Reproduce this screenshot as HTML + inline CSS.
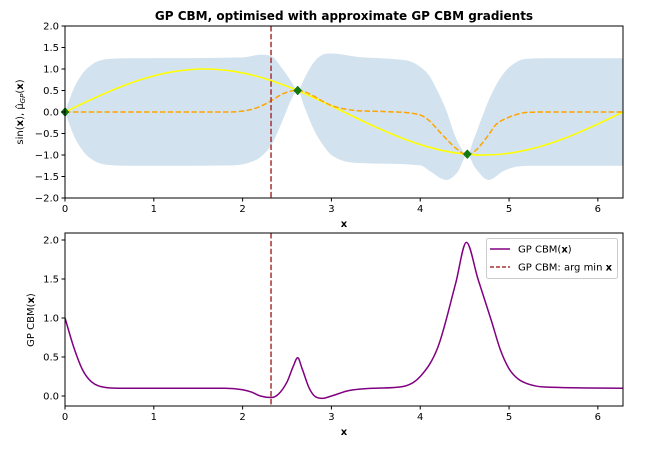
<!DOCTYPE html>
<html><head><meta charset="utf-8"><style>
body{margin:0;background:#fff;}
svg{display:block;font-family:"DejaVu Sans","Liberation Sans",sans-serif;}
</style></head><body>
<svg id="c" width="652" height="450" xmlns="http://www.w3.org/2000/svg"></svg>
<script>
const xs_sin=[0,0.3,0.6,0.9,1.2,1.5708,1.9,2.2,2.5,2.8,3.1416,3.5,3.8,4.1,4.4,4.7124,5.0,5.3,5.6,5.9,6.2832];
const ys_sin=[0,0.296,0.565,0.783,0.932,1,0.946,0.808,0.598,0.335,0,-0.351,-0.612,-0.818,-0.952,-1,-0.959,-0.832,-0.631,-0.374,0];
const xs_mu=[0,1.8,1.95,2.1,2.2,2.32,2.45,2.55,2.62,2.7,2.8,2.9,3.0,3.15,3.3,3.6,4.0,4.1,4.2,4.3,4.4,4.53,4.62,4.7,4.78,4.85,5.0,5.1,5.2,5.4,6.2832];
const ys_mu=[0,0,0.01,0.06,0.13,0.26,0.42,0.49,0.5,0.47,0.37,0.25,0.15,0.07,0.03,0.01,-0.07,-0.2,-0.42,-0.64,-0.84,-1.0,-0.9,-0.72,-0.5,-0.3,-0.12,-0.05,-0.01,0,0];
const xs_up=[0,0.1,0.2,0.3,0.4,0.55,0.8,2.0,2.2,2.32,2.45,2.55,2.62,2.7,2.8,2.9,3.0,3.3,3.7,3.9,4.0,4.1,4.19,4.3,4.38,4.45,4.53,4.6,4.7,4.79,4.94,5.09,5.24,5.5,6.2832];
const ys_up=[0,0.55,0.9,1.1,1.2,1.24,1.25,1.27,1.33,1.3,1.0,0.7,0.5,0.8,1.15,1.33,1.36,1.28,1.23,1.17,1.05,0.85,0.51,0,-0.49,-0.8,-1.0,-0.65,-0.1,0.36,0.9,1.17,1.24,1.25,1.25];
const xs_lo=[0,0.1,0.2,0.3,0.4,0.55,0.8,1.9,2.1,2.2,2.32,2.45,2.55,2.62,2.7,2.8,2.9,3.0,3.35,4.0,4.12,4.29,4.42,4.53,4.62,4.77,4.94,5.09,5.3,6.2832];
const ys_lo=[0,-0.55,-0.9,-1.1,-1.2,-1.24,-1.25,-1.24,-1.16,-1.05,-0.78,-0.2,0.3,0.5,0.1,-0.4,-0.75,-1.0,-1.19,-1.24,-1.39,-1.58,-1.4,-1.0,-1.3,-1.58,-1.37,-1.27,-1.25,-1.25];
const obs_x=[0,2.62,4.53];
const obs_y=[0,0.5,-0.98];
const argmin_x=2.32;
const xs_cbm=[0,0.1,0.2,0.3,0.45,0.6,1.0,1.8,2.0,2.1,2.2,2.32,2.4,2.5,2.57,2.62,2.67,2.75,2.82,2.9,3.0,3.2,3.5,3.8,4.0,4.2,4.4,4.52,4.65,4.8,4.9,5.0,5.1,5.2,5.4,6.2832];
const ys_cbm=[1.0,0.62,0.33,0.18,0.11,0.1,0.1,0.1,0.08,0.05,0.0,-0.02,0.02,0.18,0.38,0.49,0.35,0.1,-0.01,-0.03,0.0,0.07,0.1,0.12,0.25,0.63,1.45,1.97,1.5,0.97,0.6,0.35,0.22,0.16,0.115,0.1];
const xticks=[0,1,2,3,4,5,6];
const yticks_top=[-2,-1.5,-1,-0.5,0,0.5,1,1.5,2];
const yticks_bot=[0,0.5,1,1.5,2];

const NS="http://www.w3.org/2000/svg";
const svg=document.getElementById('c');
function mk(t,a,p){const e=document.createElementNS(NS,t);for(const k in a)e.setAttribute(k,a[k]);(p||svg).appendChild(e);return e;}
const L=65,R=623,XMAX=2*Math.PI;
const X=v=>L+v/XMAX*(R-L);
const T={top:26,bot:198,min:-2,max:2};
const B={top:233,bot:406,min:-0.1282,max:2.0897};
const Y=(ax,v)=>ax.bot-(v-ax.min)/(ax.max-ax.min)*(ax.bot-ax.top);
function pts(xa,ya,ax){return xa.map((x,i)=>[X(x),Y(ax,ya[i])]);}
function segs(p){const n=p.length,d=[],m=[];
 for(let i=0;i<n-1;i++)d.push((p[i+1][1]-p[i][1])/(p[i+1][0]-p[i][0]));
 m[0]=d[0];m[n-1]=d[n-2];
 for(let i=1;i<n-1;i++){m[i]=(d[i-1]*d[i]<=0)?0:(d[i-1]+d[i])/2;}
 for(let i=0;i<n-1;i++){if(d[i]===0){m[i]=0;m[i+1]=0;continue;}
  const a=m[i]/d[i],b=m[i+1]/d[i],s=a*a+b*b;if(s>9){const t=3/Math.sqrt(s);m[i]=t*a*d[i];m[i+1]=t*b*d[i];}}
 let s='';
 for(let i=0;i<n-1;i++){const h=(p[i+1][0]-p[i][0])/3;
  s+=' C'+(p[i][0]+h).toFixed(2)+','+(p[i][1]+m[i]*h).toFixed(2)+' '+(p[i+1][0]-h).toFixed(2)+','+(p[i+1][1]-m[i+1]*h).toFixed(2)+' '+p[i+1][0].toFixed(2)+','+p[i+1][1].toFixed(2);}
 return s;}
function smooth(p){return 'M'+p[0][0].toFixed(2)+','+p[0][1].toFixed(2)+segs(p);}
function clip(id,ax){const cp=mk('clipPath',{id:id});mk('rect',{x:L,y:ax.top,width:R-L,height:ax.bot-ax.top},cp);}
clip('ct',T);clip('cb',B);

let t=mk('text',{x:344,y:20,'text-anchor':'middle','font-size':12,'font-weight':'bold',fill:'#000'});t.textContent='GP CBM, optimised with approximate GP CBM gradients';


const gT=mk('g',{'clip-path':'url(#ct)'});
const up=pts(xs_up,ys_up,T),lo=pts(xs_lo,ys_lo,T).reverse();
let bd=smooth(up)+' L'+lo[0][0].toFixed(2)+','+lo[0][1].toFixed(2)+segs(lo)+' Z';
let band=mk('path',{d:bd,fill:'#d2e2ee',stroke:'none'},gT);

let sl=mk('path',{d:smooth(pts(xs_sin,ys_sin,T)),fill:'none',stroke:'#ffff00','stroke-width':1.6},gT);

let ml=mk('path',{d:smooth(pts(xs_mu,ys_mu,T)),fill:'none',stroke:'#ffa500','stroke-width':1.5,'stroke-dasharray':'5.5,2.4'},gT);

obs_x.forEach((x,i)=>{const cx=X(x),cy=Y(T,obs_y[i]);
 const m=mk('path',{d:`M${cx},${cy-4.5} L${cx+4},${cy} L${cx},${cy+4.5} L${cx-4},${cy} Z`,fill:'#117a11',stroke:'#0a5a0a','stroke-width':0.5});
 });
let v1=mk('line',{x1:X(argmin_x),x2:X(argmin_x),y1:T.top,y2:T.bot,stroke:'#a83232','stroke-width':1.5,'stroke-dasharray':'5.5,2.4'});


const gB=mk('g',{'clip-path':'url(#cb)'});
let v2=mk('line',{x1:X(argmin_x),x2:X(argmin_x),y1:B.top,y2:B.bot,stroke:'#a83232','stroke-width':1.5,'stroke-dasharray':'5.5,2.4'},gB);

let cl=mk('path',{d:smooth(pts(xs_cbm,ys_cbm,B)),fill:'none',stroke:'#800080','stroke-width':1.5},gB);


function axes(ax,yt,fmt,name){
 const f=mk('rect',{x:L,y:ax.top,width:R-L,height:ax.bot-ax.top,fill:'none',stroke:'#000','stroke-width':1});
 
 xticks.forEach(v=>{mk('line',{x1:X(v),x2:X(v),y1:ax.bot,y2:ax.bot+3.5,stroke:'#000'});
  const tx=mk('text',{x:X(v),y:ax.bot+14,'text-anchor':'middle','font-size':10,fill:'#000'});tx.textContent=v;
  });
 yt.forEach(v=>{const y=Y(ax,v);mk('line',{x1:L-3.5,x2:L,y1:y,y2:y,stroke:'#000'});
  const tx=mk('text',{x:L-6,y:y+3.5,'text-anchor':'end','font-size':10,fill:'#000'});tx.textContent=fmt(v);
  });
 const xl=mk('text',{x:344,y:ax.bot+29,'text-anchor':'middle','font-size':10,'font-weight':'bold',fill:'#000'});xl.textContent='x';
 
}
axes(T,yticks_top,v=>(v<0?'\u2212':'')+Math.abs(v).toFixed(1),'top');
axes(B,yticks_bot,v=>v.toFixed(1),'bottom');
let yl1=mk('text',{transform:'translate(23,112) rotate(-90)','text-anchor':'middle','font-size':10,fill:'#000'});
yl1.innerHTML='sin(<tspan font-weight="bold">x</tspan>), μ̂<tspan font-size="7" dy="2" font-style="italic">GP</tspan><tspan dy="-2">(</tspan><tspan font-weight="bold">x</tspan>)';

let yl2=mk('text',{transform:'translate(34,320) rotate(-90)','text-anchor':'middle','font-size':10,fill:'#000'});
yl2.innerHTML='GP CBM(<tspan font-weight="bold">x</tspan>)';


const lg=mk('g',{});

mk('rect',{x:486.5,y:238.5,width:131,height:40,rx:2,fill:'#fff',stroke:'#ccc'},lg);
let e1=mk('g',{},lg);
mk('line',{x1:490,x2:510,y1:249,y2:249,stroke:'#800080','stroke-width':1.5},e1);
let lt1=mk('text',{x:518,y:252.5,'font-size':10,fill:'#000'},e1);lt1.innerHTML='GP CBM(<tspan font-weight="bold">x</tspan>)';
let e2=mk('g',{},lg);
mk('line',{x1:490,x2:510,y1:267,y2:267,stroke:'#a83232','stroke-width':1.5,'stroke-dasharray':'4,2'},e2);
let lt2=mk('text',{x:518,y:270.5,'font-size':10,fill:'#000'},e2);lt2.innerHTML='GP CBM: arg min <tspan font-weight="bold">x</tspan>';
</script>
</body></html>
